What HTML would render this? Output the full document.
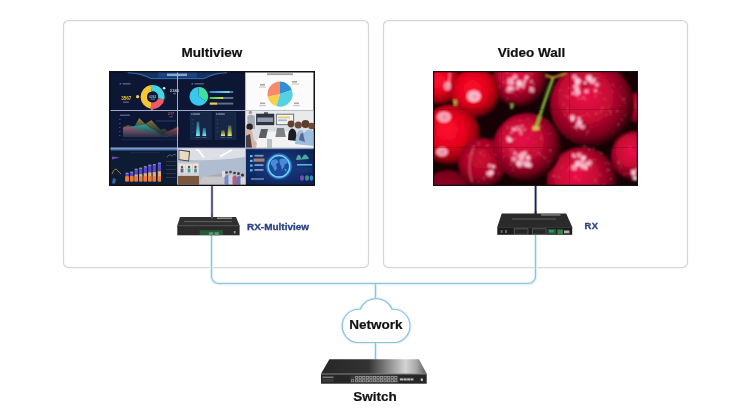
<!DOCTYPE html>
<html><head><meta charset="utf-8">
<style>
html,body{margin:0;padding:0;background:#fff;width:750px;height:417px;overflow:hidden}
svg{display:block;will-change:transform}
text{font-family:"Liberation Sans",sans-serif;font-weight:bold}
</style></head>
<body>
<svg width="750" height="417" viewBox="0 0 750 417">
<defs>
  <filter id="soft2" x="-2%" y="-2%" width="104%" height="104%"><feGaussianBlur stdDeviation="0.35"/></filter>
  <filter id="soft" x="-5%" y="-5%" width="110%" height="110%"><feGaussianBlur stdDeviation="0.8"/></filter>
  <radialGradient id="cb" cx="0.45" cy="0.42" r="0.6"><stop offset="0" stop-color="#ff1030"/><stop offset="0.5" stop-color="#e4001c"/><stop offset="0.8" stop-color="#9a000e"/><stop offset="1" stop-color="#200004"/></radialGradient>
  <radialGradient id="cc" cx="0.42" cy="0.4" r="0.62"><stop offset="0" stop-color="#ea1248"/><stop offset="0.45" stop-color="#c80834"/><stop offset="0.78" stop-color="#7a021c"/><stop offset="1" stop-color="#1a0004"/></radialGradient>
  <radialGradient id="cd" cx="0.45" cy="0.42" r="0.58"><stop offset="0" stop-color="#d00a30"/><stop offset="0.6" stop-color="#a80426"/><stop offset="0.9" stop-color="#600212"/><stop offset="1" stop-color="#200006"/></radialGradient>
  <linearGradient id="bar1" x1="0" x2="1"><stop offset="0" stop-color="#3a7ee0"/><stop offset="1" stop-color="#70e0e8"/></linearGradient>
  <linearGradient id="bar2" x1="0" x2="1"><stop offset="0" stop-color="#30c860"/><stop offset="1" stop-color="#d8e040"/></linearGradient>
  <linearGradient id="swtop" x1="0" y1="0" x2="1" y2="0">
    <stop offset="0" stop-color="#262626"/>
    <stop offset="0.45" stop-color="#333"/>
    <stop offset="0.65" stop-color="#909090"/>
    <stop offset="0.8" stop-color="#d4d4d6"/>
    <stop offset="0.9" stop-color="#a8a8a8"/>
    <stop offset="1" stop-color="#5a5a5a"/>
  </linearGradient>
  <radialGradient id="globebg" cx="0.5" cy="0.5" r="0.6"><stop offset="0" stop-color="#1a3e88"/><stop offset="1" stop-color="#0e2458"/></radialGradient>
  <linearGradient id="olive" x1="0" y1="0" x2="0" y2="1"><stop offset="0" stop-color="#a09040" stop-opacity="0.9"/><stop offset="1" stop-color="#506030" stop-opacity="0.15"/></linearGradient>
  <linearGradient id="teal" x1="0" y1="0" x2="0" y2="1"><stop offset="0" stop-color="#30a8a8" stop-opacity="0.85"/><stop offset="1" stop-color="#206080" stop-opacity="0.2"/></linearGradient>
  <linearGradient id="pink" x1="0" y1="0" x2="0" y2="1"><stop offset="0" stop-color="#c04868" stop-opacity="0.8"/><stop offset="1" stop-color="#602850" stop-opacity="0.2"/></linearGradient>
  <linearGradient id="cyanbar" x1="0" y1="0" x2="0" y2="1"><stop offset="0" stop-color="#3a90b8" stop-opacity="0.6"/><stop offset="1" stop-color="#70f0f8"/></linearGradient>
  <linearGradient id="yelbar" x1="0" y1="0" x2="0" y2="1"><stop offset="0" stop-color="#808040" stop-opacity="0.6"/><stop offset="1" stop-color="#f0f070"/></linearGradient>
</defs>
<!-- boxes -->
<rect x="63.5" y="20.5" width="305" height="247" rx="5" fill="#fff" stroke="#d6d6d6" stroke-width="1.25"/>
<rect x="383.5" y="20.5" width="304" height="247" rx="5" fill="#fff" stroke="#d6d6d6" stroke-width="1.25"/>
<!-- titles -->
<text x="212" y="57" font-size="13.5" text-anchor="middle" fill="#111" stroke="#111" stroke-width="0.2">Multiview</text>
<text x="531.5" y="57" font-size="13.5" text-anchor="middle" fill="#111" stroke="#111" stroke-width="0.2">Video Wall</text>

<!-- monitors -->
<rect x="109" y="71" width="206" height="115" fill="#111"/>
<g id="mv" filter="url(#soft2)">
<!-- row1 dashboard -->
<rect x="110.5" y="72.5" width="135" height="38" fill="#081430"/>
<polygon points="132,72.5 223,72.5 204,78.6 151,78.6" fill="#12305e"/>
<path d="M128 72.8 Q142 73.2 151 78.6 H204 Q213 73.2 227 72.8" fill="none" stroke="#3f8ed0" stroke-width="0.9" opacity="0.85"/>
<path d="M125 72.6 Q135 73 141 74 M214 74 Q220 73 230 72.6" fill="none" stroke="#2a5a9a" stroke-width="0.7" opacity="0.4"/>
<rect x="158" y="72.6" width="39" height="5" fill="#1e4a88" opacity="0.8"/><rect x="167" y="73.6" width="20" height="2.4" fill="#d8e4f8" opacity="0.6"/>
<rect x="116" y="80" width="59" height="29" fill="none" stroke="#16305e" stroke-width="0.5" opacity="0.6"/>
<rect x="186" y="80" width="55" height="29" fill="none" stroke="#16305e" stroke-width="0.5" opacity="0.6"/>
<rect x="119.6" y="83" width="1.6" height="1.6" fill="#8aa2c8" opacity="0.6"/><rect x="122.5" y="83" width="8" height="1.6" fill="#8aa2c8" opacity="0.5"/>
<rect x="191.5" y="83" width="1.6" height="1.6" fill="#8aa2c8" opacity="0.6"/><rect x="194.4" y="83" width="9.5" height="1.6" fill="#8aa2c8" opacity="0.5"/>
<text x="126.3" y="100.4" font-size="4.6" text-anchor="middle" fill="#f0c848">3567</text>
<rect x="123" y="101.5" width="6" height="1.2" fill="#a0a8b8" opacity="0.6"/>
<circle cx="137.6" cy="96.7" r="1.6" fill="#f6d040"/>
<path d="M150.52 85.08 A12 12 0 0 1 164.29 99.60 L158.06 98.16 A5.6 5.6 0 0 0 151.63 91.39 Z" fill="#3fd6e4"/>
<path d="M164.29 99.60 A12 12 0 0 1 150.52 108.72 L151.63 102.41 A5.6 5.6 0 0 0 158.06 98.16 Z" fill="#f05a6a"/>
<path d="M150.52 108.72 A12 12 0 0 1 150.52 85.08 L151.63 91.39 A5.6 5.6 0 0 0 151.63 102.41 Z" fill="#f6c636"/>
<text x="152.7" y="97.8" font-size="3.2" text-anchor="middle" fill="#90b8f0">6262</text>
<rect x="150.5" y="98.5" width="4.5" height="1.2" fill="#a0b0d0" opacity="0.6"/>
<circle cx="164.1" cy="88.3" r="1.3" fill="#d0f0ff"/>
<text x="174.5" y="91.6" font-size="4.2" text-anchor="middle" fill="#b8c8e0">2346</text>
<rect x="173" y="93" width="3" height="1.2" fill="#a0a8b8" opacity="0.5"/>
<circle cx="152" cy="109.5" r="1.2" fill="#f05a6a"/>
<path d="M198.8 96.4 L198.31 87.11 A9.3 9.3 0 0 1 206.42 101.73 Z" fill="#3ee0a4"/>
<path d="M198.8 96.4 L206.42 101.73 A9.3 9.3 0 1 1 198.31 87.11 Z" fill="#38c8ee"/>
<rect x="209.8" y="91" width="23.5" height="2" fill="#5c7290"/>
<rect x="209.8" y="97" width="23.5" height="2" fill="#5c7290"/>
<rect x="209.8" y="102.6" width="23.5" height="2" fill="#5c7290"/>
<rect x="209.8" y="91" width="19.7" height="2" fill="url(#bar1)"/>
<rect x="209.8" y="97" width="13.5" height="2" fill="url(#bar2)"/>
<rect x="209.8" y="102.6" width="7.2" height="2" fill="#f2cc50"/>
<!-- row1 white pie -->
<rect x="245.5" y="72.5" width="68" height="38" fill="#fbfbfb"/>
<rect x="267" y="73.3" width="26" height="1.8" fill="#555" opacity="0.55"/>
<path d="M280 94.1 L280.00 81.60 A12.5 12.5 0 0 1 291.82 90.03 Z" fill="#2d8fd6"/>
<path d="M280 94.1 L291.82 90.03 A12.5 12.5 0 0 1 276.35 106.05 Z" fill="#52d0e2"/>
<path d="M280 94.1 L276.35 106.05 A12.5 12.5 0 0 1 267.77 96.70 Z" fill="#f7d04a"/>
<path d="M280 94.1 L267.77 96.70 A12.5 12.5 0 0 1 280.00 81.60 Z" fill="#f78a6c"/>
<rect x="260" y="84" width="5" height="1.6" fill="#555" opacity="0.5"/><rect x="259" y="86.5" width="7" height="1.2" fill="#888" opacity="0.4"/>
<rect x="292" y="81" width="5" height="1.6" fill="#555" opacity="0.5"/><rect x="292" y="83.5" width="7" height="1.2" fill="#888" opacity="0.4"/>
<rect x="260" y="102.5" width="5" height="1.6" fill="#555" opacity="0.5"/><rect x="259" y="105" width="7" height="1.2" fill="#888" opacity="0.4"/>
<rect x="294" y="102.5" width="5" height="1.6" fill="#555" opacity="0.5"/><rect x="293" y="105" width="7" height="1.2" fill="#888" opacity="0.4"/>
<!-- row2 dashboard -->
<rect x="110.5" y="110.5" width="135" height="37.5" fill="#0a1736"/>
<rect x="120" y="114.5" width="10" height="1.5" fill="#8aa2c8" opacity="0.5"/>
<rect x="119" y="119" width="1.5" height="1" fill="#6a7ea0" opacity="0.5"/><rect x="119" y="123" width="1.5" height="1" fill="#6a7ea0" opacity="0.5"/><rect x="119" y="127" width="1.5" height="1" fill="#6a7ea0" opacity="0.5"/><rect x="119" y="131" width="1.5" height="1" fill="#6a7ea0" opacity="0.5"/><rect x="119" y="135" width="1.5" height="1" fill="#6a7ea0" opacity="0.5"/>
<path d="M123.1 127.1 L128.1 125.1 L134.2 127.1 L139.2 118.1 L145.3 124.1 L151.3 120.1 L160.4 129.7 L164.4 128.6 L168.4 131.7 L178.5 126.1 V137.2 H123.1 Z" fill="url(#olive)"/>
<path d="M123.1 128.1 L134.2 126.1 L145.3 124.6 L150.3 128.1 L156.3 131.2 L160.4 134.2 L162 137.2 H123.1 Z" fill="url(#teal)"/>
<path d="M123.1 127.6 L128.1 126.6 L136.2 129.7 L150.3 132.2 L162.4 135.2 L168.4 130.7 L178.5 127.6 V137.2 H123.1 Z" fill="url(#pink)"/>
<path d="M156.3 131.2 L164.4 137.2 L178 133" fill="none" stroke="#2a4a90" stroke-width="0.6" opacity="0.8"/>
<rect x="121" y="139.5" width="57" height="0.7" fill="#4a5a80" opacity="0.5"/>
<text x="171" y="115" font-size="4" text-anchor="middle" fill="#b84858">217</text><rect x="169" y="116.3" width="4" height="1" fill="#8090b0" opacity="0.5"/>
<rect x="156" y="120.5" width="20" height="0.9" fill="#6a82a8" opacity="0.45"/>

<rect x="190.2" y="112.1" width="21" height="27.3" fill="#172846" stroke="#223a60" stroke-width="0.4"/>
<rect x="215" y="112.1" width="21" height="27.3" fill="#172846" stroke="#223a60" stroke-width="0.4"/>
<rect x="191.2" y="113.4" width="1.3" height="1.3" fill="#c8d4e8" opacity="0.7"/><rect x="193" y="113.4" width="7" height="1.3" fill="#c8d4e8" opacity="0.6"/>
<rect x="216" y="113.4" width="1.3" height="1.3" fill="#c8d4e8" opacity="0.7"/><rect x="217.8" y="113.4" width="7" height="1.3" fill="#c8d4e8" opacity="0.6"/>
<g fill="#6a7a98" opacity="0.45"><rect x="191.8" y="119.5" width="1.6" height="0.8"/><rect x="191.8" y="123.5" width="1.6" height="0.8"/><rect x="191.8" y="127.5" width="1.6" height="0.8"/><rect x="191.8" y="131.5" width="1.6" height="0.8"/><rect x="216.6" y="119.5" width="1.6" height="0.8"/><rect x="216.6" y="123.5" width="1.6" height="0.8"/><rect x="216.6" y="127.5" width="1.6" height="0.8"/><rect x="216.6" y="131.5" width="1.6" height="0.8"/></g>
<path d="M196 136 L196.8 121.8 H199.1 L199.9 136 Z" fill="url(#cyanbar)"/>
<path d="M202.4 136 L203 128 H205.6 L206.2 136 Z" fill="url(#cyanbar)"/>
<path d="M220.9 136 L221.5 130.2 H224.5 L225.1 136 Z" fill="url(#yelbar)"/>
<path d="M227.6 136 L228.2 125.5 H231.2 L231.8 136 Z" fill="url(#yelbar)"/>
<rect x="195.5" y="137" width="5" height="1" fill="#8090a8" opacity="0.4"/><rect x="201.8" y="137" width="5" height="1" fill="#8090a8" opacity="0.4"/>
<rect x="220.4" y="137" width="5" height="1" fill="#8090a8" opacity="0.4"/><rect x="227" y="137" width="5" height="1" fill="#8090a8" opacity="0.4"/>
<!-- row2 photo meeting -->
<rect x="245.5" y="110.5" width="68" height="37.5" fill="#dadee2"/>
<rect x="245.5" y="110.5" width="68" height="16" fill="#e8eaec"/>
<rect x="256.1" y="113.7" width="18.2" height="11.5" fill="#2c3444"/>
<rect x="257.3" y="117.5" width="15.8" height="4.5" fill="#b8bcd0" opacity="0.75"/>
<rect x="275.9" y="113.7" width="18.2" height="11.5" fill="#6a7278"/>
<rect x="276.9" y="114.7" width="16.2" height="9.5" fill="#f2f2ee"/>
<rect x="278" y="116.5" width="12" height="2" fill="#e8c870" opacity="0.9"/>
<rect x="278" y="119.5" width="9" height="1.6" fill="#80a8d8" opacity="0.8"/>
<rect x="264" y="112.3" width="4" height="1.6" fill="#404048"/>
<path d="M252 148 L262 131.5 H295 L313.5 146 V148 Z" fill="#f3f3f3"/>
<path d="M258.7 138 L261 129 H268 L266 138 Z" fill="#5a5e64"/>
<path d="M275.4 137 L277 128 H284 L285.8 137 Z" fill="#6a6e74" opacity="0.85"/>
<rect x="267" y="139" width="5" height="9" fill="#9a9ea4" opacity="0.6"/>
<circle cx="250.4" cy="112.5" r="1.8" fill="#b89a88"/>
<path d="M247.3 129 V116 Q250.5 113.5 254.8 116 L255 129 Z" fill="#a8aeb6"/>
<circle cx="249.6" cy="126.7" r="3.2" fill="#2a2222"/>
<path d="M245.5 148 V130 Q249 128 252 131 L254 140 L257 143 L256 148 Z" fill="#d4b4a4"/>
<path d="M245.5 148 V136 L250 134 L252 148 Z" fill="#3a3234" opacity="0.9"/>
<circle cx="291" cy="124" r="3.4" fill="#5e4232"/>
<circle cx="298.3" cy="125" r="3.6" fill="#6a4a38"/>
<circle cx="305.5" cy="124" r="4" fill="#5a3c2c"/>
<circle cx="311.5" cy="126" r="3.2" fill="#6a4a38"/>
<path d="M288 140 Q288 129 292 128.5 Q296 129 296.5 135 L297 141 Z" fill="#1c1c24"/>
<path d="M295 144 Q296 131 300 130 Q303 130 304 133 Q307 129 310 130 Q313.5 131 313.5 133 V146 Z" fill="#9cbce0"/>
<path d="M299 140 Q300 132 303 133 L305 142 Z" fill="#3a4a6a" opacity="0.7"/>
<!-- row3 bar dashboard -->
<rect x="110.5" y="148" width="67" height="36.5" fill="#0f1a30"/>
<rect x="110.5" y="148" width="67" height="2.4" fill="#4a7fc6"/>
<path d="M112 156.5 L120 157.5 L112 159.5 Z" fill="#7a50c8" opacity="0.9"/>
<path d="M112 174 Q115 166 118 171 L121 174" fill="none" stroke="#c89050" stroke-width="1" opacity="0.8"/>
<path d="M112 183.5 L113 178 L116 179 L115 183.5 Z" fill="#3a7ac0" opacity="0.8"/>
<rect x="130" y="152.5" width="30" height="0.7" fill="#506080" opacity="0.4"/><path d="M167 157.5 Q169 153 172 156 Q174 153 176 155" fill="none" stroke="#8a94a8" stroke-width="0.9" opacity="0.6"/><rect x="166" y="161" width="10" height="0.8" fill="#6a7488" opacity="0.4"/><rect x="166" y="165" width="10" height="0.8" fill="#6a7488" opacity="0.4"/><rect x="166" y="169" width="10" height="0.8" fill="#6a7488" opacity="0.4"/><rect x="166" y="173" width="10" height="0.8" fill="#6a7488" opacity="0.4"/><rect x="166" y="177" width="10" height="0.8" fill="#6a7488" opacity="0.4"/>
<g><rect x="125.5" y="173.2" width="3.2" height="8.1" fill="#5a48c8"/><rect x="125.5" y="176.8" width="3.2" height="4.5" fill="#e0b070"/><rect x="125.5" y="176.2" width="3.2" height="5.1" fill="#f07a30"/><rect x="130.1" y="172.2" width="3.2" height="9.1" fill="#5a48c8"/><rect x="130.1" y="176.3" width="3.2" height="5.0" fill="#e0b070"/><rect x="130.1" y="176.2" width="3.2" height="5.1" fill="#f07a30"/><rect x="134.6" y="169.2" width="3.2" height="12.1" fill="#5a48c8"/><rect x="134.6" y="174.6" width="3.2" height="6.7" fill="#e0b070"/><rect x="134.6" y="176.2" width="3.2" height="5.1" fill="#f07a30"/><rect x="139.1" y="168.2" width="3.2" height="13.1" fill="#5a48c8"/><rect x="139.1" y="174.1" width="3.2" height="7.2" fill="#e0b070"/><rect x="139.1" y="176.2" width="3.2" height="5.1" fill="#f07a30"/><rect x="143.7" y="166.7" width="3.2" height="14.6" fill="#5a48c8"/><rect x="143.7" y="173.3" width="3.2" height="8.0" fill="#e0b070"/><rect x="143.7" y="176.2" width="3.2" height="5.1" fill="#f07a30"/><rect x="148.2" y="165.1" width="3.2" height="16.2" fill="#5a48c8"/><rect x="148.2" y="172.4" width="3.2" height="8.9" fill="#e0b070"/><rect x="148.2" y="176.2" width="3.2" height="5.1" fill="#f07a30"/><rect x="152.7" y="164.6" width="3.2" height="16.7" fill="#5a48c8"/><rect x="152.7" y="172.1" width="3.2" height="9.2" fill="#e0b070"/><rect x="152.7" y="176.2" width="3.2" height="5.1" fill="#f07a30"/><rect x="157.8" y="163.1" width="3.2" height="18.2" fill="#5a48c8"/><rect x="157.8" y="171.3" width="3.2" height="10.0" fill="#e0b070"/><rect x="157.8" y="176.2" width="3.2" height="5.1" fill="#f07a30"/></g>
<g><rect x="125.7" y="172.6" width="2.8" height="1.2" fill="#a8b8f0" opacity="0.7"/><rect x="130.3" y="171.6" width="2.8" height="1.2" fill="#a8b8f0" opacity="0.7"/><rect x="134.8" y="168.6" width="2.8" height="1.2" fill="#a8b8f0" opacity="0.7"/><rect x="139.3" y="167.6" width="2.8" height="1.2" fill="#a8b8f0" opacity="0.7"/><rect x="143.9" y="166.1" width="2.8" height="1.2" fill="#a8b8f0" opacity="0.7"/><rect x="148.4" y="164.5" width="2.8" height="1.2" fill="#a8b8f0" opacity="0.7"/><rect x="152.9" y="164.0" width="2.8" height="1.2" fill="#a8b8f0" opacity="0.7"/><rect x="158.0" y="162.5" width="2.8" height="1.2" fill="#a8b8f0" opacity="0.7"/></g>
<!-- row3 classroom photo -->
<rect x="177.5" y="148" width="68" height="36.5" fill="#b0bccf"/>
<path d="M177.5 148 H245.5 V157 Q215 161 190 160 L177.5 158 Z" fill="#dcdfe6"/>
<path d="M196 149.3 L199 151 L204 157.5" fill="none" stroke="#ffffff" stroke-width="1.8"/>
<path d="M220 156.5 L232 150" fill="none" stroke="#ffffff" stroke-width="1.8"/>
<path d="M178.5 149.5 L190 151 L189 161.5 L178.5 160 Z" fill="#3a3a40"/>
<path d="M179.3 150.5 L189 152 L188.3 160.5 L179.3 159.2 Z" fill="#e6dcc4"/>
<rect x="178" y="162.5" width="21" height="13" fill="#d6d2cc"/>
<rect x="179" y="164" width="6" height="9" fill="#e8e4e0"/><rect x="186" y="164" width="6" height="9" fill="#e0e6e8"/><rect x="193" y="164" width="5" height="9" fill="#e8e4e0"/>
<circle cx="182" cy="167" r="1.2" fill="#6a5040"/><rect x="180.6" y="168.5" width="2.8" height="4" fill="#506890"/>
<circle cx="189" cy="167" r="1.2" fill="#6a5040"/><rect x="187.6" y="168.5" width="2.8" height="4" fill="#40a0a0"/>
<circle cx="195.5" cy="167" r="1.2" fill="#6a5040"/><rect x="194.2" y="168.5" width="2.6" height="4" fill="#5080a8"/>
<path d="M177.5 176 H199 V184.5 H177.5 Z" fill="#7a5840"/>
<path d="M199 184.5 L203 176.5 H224 L226 184.5 Z" fill="#c8c8cc"/>
<path d="M205 176.5 L222 173.5 L224 176.5 Z" fill="#a8a098" opacity="0.6"/>
<rect x="222" y="171" width="3" height="6" fill="#e8e8ee" opacity="0.8"/>
<circle cx="226.5" cy="172.5" r="1.3" fill="#5a3a30"/>
<circle cx="230.5" cy="172" r="1.3" fill="#5a3a30"/>
<circle cx="234.5" cy="173" r="1.3" fill="#4a3028"/>
<circle cx="238.5" cy="173.5" r="1.5" fill="#5a3a30"/>
<circle cx="242.5" cy="175" r="1.6" fill="#4a3028"/>
<path d="M224.5 184.5 V177 Q226.5 174 228.5 175.5 L229 184.5 Z" fill="#6a80c8" opacity="0.85"/>
<path d="M228.5 184.5 V176 Q230.5 173.5 232.5 175 L233 184.5 Z" fill="#d8d0e0" opacity="0.85"/>
<path d="M232.5 184.5 V177 Q234.5 174.5 236.5 176 L237 184.5 Z" fill="#b85060" opacity="0.85"/>
<path d="M236.5 184.5 V177.5 Q238.5 175 240.5 176.5 L241 184.5 Z" fill="#5a68b0" opacity="0.85"/>
<path d="M240.5 184.5 V178.5 Q243 176.5 245.5 178 V184.5 Z" fill="#e8d8d0" opacity="0.85"/>
<!-- row3 globe dashboard -->
<rect x="245.5" y="148" width="68" height="36.5" fill="url(#globebg)"/>
<rect x="245.5" y="148" width="68" height="1.2" fill="#e8e8e8" opacity="0.5"/>
<circle cx="279" cy="166.3" r="13.5" fill="#2a70d0" opacity="0.35"/>
<circle cx="279" cy="166.3" r="10.8" fill="#1c4a9a" stroke="#70d4ff" stroke-width="1.5"/>
<circle cx="279" cy="166.3" r="12.2" fill="none" stroke="#4ab0f0" stroke-width="1" opacity="0.5"/>
<path d="M270.5 161.5 Q273 158.5 277 159.5 L278.5 162 L276 164.5 L277 168 L275 171.5 L273 167 L271 164.5 Z" fill="#5aa8f0" opacity="0.7"/>
<path d="M279.5 159.5 Q283 157.5 286.5 159.5 L288 163 L285 164 L284 167 L282 170 L281 166 L279.5 163 Z" fill="#5aa8f0" opacity="0.7"/><path d="M284 169 Q286 168 287 170 L285.5 172 Z" fill="#5aa8f0" opacity="0.6"/>
<rect x="250" y="155" width="2.6" height="2.2" fill="#58b8f0"/><rect x="254.5" y="154.8" width="9" height="1.8" fill="#a8c8f0" opacity="0.7"/>
<rect x="250" y="159.8" width="2.6" height="2.2" fill="#58b8f0"/><rect x="253.5" y="158.5" width="11" height="3.2" fill="#c89060" opacity="0.85"/>
<rect x="250" y="164.5" width="2.6" height="2.2" fill="#58b8f0"/><rect x="254.5" y="164.2" width="9" height="1.8" fill="#a8c8f0" opacity="0.7"/>
<rect x="250" y="169.2" width="2.6" height="2.2" fill="#58b8f0"/><rect x="254.5" y="169" width="9" height="1.8" fill="#a8c8f0" opacity="0.7"/>
<rect x="251" y="178.2" width="13" height="1.6" fill="#a8c8f0" opacity="0.55"/>
<path d="M296 160 Q298.5 150 301.5 159 Q305 150 309 159 Z" fill="#58c8a8" opacity="0.8"/>
<rect x="297" y="164" width="15" height="1.5" fill="#5ad8f0" opacity="0.85"/>
<rect x="297" y="167.5" width="15" height="5" fill="#1a3a80" opacity="0.6"/>
<ellipse cx="302" cy="178" rx="2" ry="2.8" fill="#8a50c0" opacity="0.85"/>
<ellipse cx="307" cy="178" rx="2" ry="2.8" fill="#40a090" opacity="0.85"/>
<ellipse cx="311.5" cy="178" rx="1.8" ry="2.8" fill="#4090d0" opacity="0.85"/>
<!-- grid lines -->
<line x1="177.5" y1="72.5" x2="177.5" y2="184.5" stroke="#b4bcd8" stroke-width="0.9"/>
<line x1="245.5" y1="72.5" x2="245.5" y2="184.5" stroke="#b4bcd8" stroke-width="0.9"/>
<line x1="110.5" y1="110.5" x2="313.5" y2="110.5" stroke="#b4bcd8" stroke-width="0.9"/>
<line x1="110.5" y1="148" x2="313.5" y2="148" stroke="#b4bcd8" stroke-width="0.9"/>
</g>
<rect x="433" y="71" width="205" height="115" fill="#111"/>
<clipPath id="vwclip"><rect x="434.2" y="72.2" width="202.6" height="112.6"/></clipPath>
<g clip-path="url(#vwclip)">
<rect x="433" y="71" width="205" height="115" fill="#160104"/>
<g filter="url(#soft)">
<circle cx="448" cy="196" r="26" fill="url(#cd)" opacity="0.7"/>
<circle cx="440" cy="84" r="21" fill="url(#cb)"/>
<circle cx="520" cy="80" r="27" fill="url(#cc)"/>
<circle cx="475" cy="93" r="25" fill="url(#cb)"/>
<circle cx="640" cy="108" r="16" fill="url(#cd)"/>
<circle cx="592" cy="105" r="42" fill="url(#cc)"/>
<circle cx="636" cy="156" r="25" fill="url(#cc)"/>
<circle cx="450" cy="135" r="30" fill="url(#cb)"/>
<circle cx="483" cy="163" r="25" fill="url(#cd)"/>
<circle cx="582" cy="182" r="35" fill="url(#cc)"/>
<circle cx="527" cy="147" r="34" fill="url(#cc)"/>
<ellipse cx="447.4" cy="86" rx="3.5" ry="4.5" fill="#ffc8d8" opacity="0.7"/><path d="M450 73 L448.5 88" stroke="#ffb8cc" stroke-width="2" opacity="0.6"/><circle cx="446.5" cy="87.3" r="1.1" fill="#e07090" opacity="0.6"/><ellipse cx="473.8" cy="96.2" rx="7" ry="6" fill="#ffd0e0" opacity="0.85"/><circle cx="475.0" cy="96.8" r="1.6" fill="#e07090" opacity="0.6"/><ellipse cx="444" cy="117" rx="7" ry="5.5" fill="#ffc8d8" opacity="0.8"/><circle cx="444.5" cy="117.3" r="2.1" fill="#e07090" opacity="0.6"/><ellipse cx="442" cy="152" rx="6" ry="4.5" fill="#ffc8d8" opacity="0.8"/><circle cx="442.5" cy="152.3" r="1.8" fill="#e07090" opacity="0.6"/><circle cx="518.9" cy="83.8" r="2.9" fill="#ffd0e0" opacity="0.68"/><circle cx="519.2" cy="83.1" r="2.3" fill="#ffd0e0" opacity="0.68"/><circle cx="512.4" cy="83.2" r="2.3" fill="#ffd0e0" opacity="0.68"/><circle cx="527.0" cy="77.3" r="1.7" fill="#ffd0e0" opacity="0.68"/><circle cx="510.2" cy="87.3" r="2.4" fill="#ffd0e0" opacity="0.68"/><circle cx="509.0" cy="89.8" r="2.9" fill="#ffd0e0" opacity="0.68"/><circle cx="523.7" cy="84.6" r="1.5" fill="#ffd0e0" opacity="0.68"/><circle cx="508.4" cy="83.4" r="1.3" fill="#ffd0e0" opacity="0.68"/><circle cx="512.6" cy="79.4" r="1.3" fill="#ffd0e0" opacity="0.68"/><circle cx="519.1" cy="82.2" r="2.7" fill="#ffd0e0" opacity="0.68"/><circle cx="520.5" cy="85.0" r="2.1" fill="#ffd0e0" opacity="0.68"/><circle cx="523.9" cy="82.4" r="1.7" fill="#ffd0e0" opacity="0.68"/><circle cx="531.9" cy="89.9" r="2.7" fill="#ffd0e0" opacity="0.68"/><circle cx="525.0" cy="80.4" r="1.6" fill="#ffd0e0" opacity="0.68"/><circle cx="514.9" cy="77.0" r="2.6" fill="#ffd0e0" opacity="0.68"/><circle cx="517.6" cy="87.9" r="1.9" fill="#ffd0e0" opacity="0.68"/><circle cx="531.0" cy="87.9" r="1.2" fill="#ffd0e0" opacity="0.68"/><circle cx="513.0" cy="88.7" r="2.0" fill="#ffd0e0" opacity="0.68"/><circle cx="531.5" cy="81.6" r="1.3" fill="#ffd0e0" opacity="0.68"/><circle cx="523.1" cy="86.9" r="1.7" fill="#ffd0e0" opacity="0.68"/><circle cx="510.1" cy="80.7" r="2.9" fill="#ffd0e0" opacity="0.68"/><circle cx="526.2" cy="77.7" r="1.6" fill="#ffd0e0" opacity="0.68"/><circle cx="574.6" cy="77.1" r="2.6" fill="#ffd0e0" opacity="0.68"/><circle cx="576.6" cy="86.1" r="2.0" fill="#ffd0e0" opacity="0.68"/><circle cx="577.0" cy="89.2" r="1.4" fill="#ffd0e0" opacity="0.68"/><circle cx="588.7" cy="78.1" r="2.0" fill="#ffd0e0" opacity="0.68"/><circle cx="577.5" cy="80.9" r="2.9" fill="#ffd0e0" opacity="0.68"/><circle cx="592.9" cy="81.5" r="2.8" fill="#ffd0e0" opacity="0.68"/><circle cx="577.5" cy="83.1" r="2.7" fill="#ffd0e0" opacity="0.68"/><circle cx="588.7" cy="77.8" r="3.0" fill="#ffd0e0" opacity="0.68"/><circle cx="577.5" cy="80.6" r="2.6" fill="#ffd0e0" opacity="0.68"/><circle cx="580.6" cy="81.3" r="1.3" fill="#ffd0e0" opacity="0.68"/><circle cx="574.3" cy="86.5" r="1.6" fill="#ffd0e0" opacity="0.68"/><circle cx="587.6" cy="82.7" r="2.0" fill="#ffd0e0" opacity="0.68"/><circle cx="596.9" cy="84.7" r="2.2" fill="#ffd0e0" opacity="0.68"/><circle cx="594.5" cy="79.3" r="1.5" fill="#ffd0e0" opacity="0.68"/><circle cx="595.6" cy="90.7" r="1.6" fill="#ffd0e0" opacity="0.68"/><circle cx="576.9" cy="89.3" r="2.9" fill="#ffd0e0" opacity="0.68"/><circle cx="577.1" cy="93.1" r="2.8" fill="#ffd0e0" opacity="0.68"/><circle cx="587.7" cy="83.6" r="1.4" fill="#ffd0e0" opacity="0.68"/><circle cx="573.0" cy="93.3" r="1.6" fill="#ffd0e0" opacity="0.68"/><circle cx="590.3" cy="80.6" r="2.7" fill="#ffd0e0" opacity="0.68"/><circle cx="587.5" cy="81.3" r="1.5" fill="#ffd0e0" opacity="0.68"/><circle cx="590.7" cy="77.2" r="1.6" fill="#ffd0e0" opacity="0.68"/><circle cx="586.5" cy="91.3" r="2.3" fill="#ffd0e0" opacity="0.68"/><circle cx="579.3" cy="92.5" r="1.6" fill="#ffd0e0" opacity="0.68"/><circle cx="586" cy="85" r="4.2" fill="#c00c34" opacity="0.9"/><circle cx="585" cy="82.8" r="1.4" fill="#ffe0ea" opacity="0.9"/><circle cx="572.2" cy="119.7" r="2.0" fill="#ffd0e0" opacity="0.68"/><circle cx="572.7" cy="118.8" r="1.9" fill="#ffd0e0" opacity="0.68"/><circle cx="578.9" cy="118.3" r="1.9" fill="#ffd0e0" opacity="0.68"/><circle cx="582.7" cy="126.8" r="2.4" fill="#ffd0e0" opacity="0.68"/><circle cx="580.3" cy="122.8" r="1.5" fill="#ffd0e0" opacity="0.68"/><circle cx="572.4" cy="117.2" r="2.8" fill="#ffd0e0" opacity="0.68"/><circle cx="580.4" cy="126.6" r="1.2" fill="#ffd0e0" opacity="0.68"/><circle cx="579.6" cy="121.8" r="2.5" fill="#ffd0e0" opacity="0.68"/><circle cx="575.8" cy="127.0" r="1.3" fill="#ffd0e0" opacity="0.68"/><circle cx="578.6" cy="124.4" r="2.8" fill="#ffd0e0" opacity="0.68"/><circle cx="524.7" cy="162.9" r="2.6" fill="#ffd0e0" opacity="0.68"/><circle cx="528.3" cy="157.9" r="2.4" fill="#ffd0e0" opacity="0.68"/><circle cx="528.0" cy="165.2" r="2.0" fill="#ffd0e0" opacity="0.68"/><circle cx="525.8" cy="165.1" r="2.2" fill="#ffd0e0" opacity="0.68"/><circle cx="522.5" cy="158.4" r="2.2" fill="#ffd0e0" opacity="0.68"/><circle cx="522.2" cy="154.1" r="2.4" fill="#ffd0e0" opacity="0.68"/><circle cx="529.9" cy="165.3" r="2.5" fill="#ffd0e0" opacity="0.68"/><circle cx="517.8" cy="163.3" r="2.2" fill="#ffd0e0" opacity="0.68"/><circle cx="518.8" cy="164.7" r="1.4" fill="#ffd0e0" opacity="0.68"/><circle cx="525.0" cy="153.4" r="2.3" fill="#ffd0e0" opacity="0.68"/><circle cx="519.6" cy="156.2" r="2.5" fill="#ffd0e0" opacity="0.68"/><circle cx="519.9" cy="161.6" r="2.9" fill="#ffd0e0" opacity="0.68"/><circle cx="515.1" cy="153.2" r="1.7" fill="#ffd0e0" opacity="0.68"/><circle cx="523.6" cy="155.8" r="1.5" fill="#ffd0e0" opacity="0.68"/><circle cx="528.1" cy="162.2" r="2.0" fill="#ffd0e0" opacity="0.68"/><circle cx="527.8" cy="157.6" r="2.4" fill="#ffd0e0" opacity="0.68"/><circle cx="514.0" cy="159.0" r="2.7" fill="#ffd0e0" opacity="0.68"/><circle cx="528.3" cy="165.3" r="1.9" fill="#ffd0e0" opacity="0.68"/><circle cx="521.7" cy="157.4" r="1.4" fill="#ffd0e0" opacity="0.68"/><circle cx="519.9" cy="164.7" r="2.7" fill="#ffd0e0" opacity="0.68"/><circle cx="521.0" cy="133.6" r="1.7" fill="#ffd0e0" opacity="0.5"/><circle cx="513.4" cy="129.6" r="1.7" fill="#ffd0e0" opacity="0.5"/><circle cx="514.0" cy="129.3" r="2.3" fill="#ffd0e0" opacity="0.5"/><circle cx="517.9" cy="128.5" r="2.7" fill="#ffd0e0" opacity="0.5"/><circle cx="524.7" cy="129.6" r="1.3" fill="#ffd0e0" opacity="0.5"/><circle cx="511.4" cy="133.0" r="1.3" fill="#ffd0e0" opacity="0.5"/><circle cx="520.9" cy="130.6" r="1.8" fill="#ffd0e0" opacity="0.5"/><circle cx="522.1" cy="126.2" r="1.4" fill="#ffd0e0" opacity="0.5"/><circle cx="579.1" cy="155.3" r="2.7" fill="#ffd0e0" opacity="0.68"/><circle cx="574.7" cy="157.0" r="1.3" fill="#ffd0e0" opacity="0.68"/><circle cx="582.6" cy="161.3" r="2.3" fill="#ffd0e0" opacity="0.68"/><circle cx="583.1" cy="166.3" r="2.9" fill="#ffd0e0" opacity="0.68"/><circle cx="583.7" cy="157.8" r="2.1" fill="#ffd0e0" opacity="0.68"/><circle cx="573.6" cy="155.2" r="2.0" fill="#ffd0e0" opacity="0.68"/><circle cx="584.3" cy="157.5" r="1.7" fill="#ffd0e0" opacity="0.68"/><circle cx="576.9" cy="164.8" r="2.1" fill="#ffd0e0" opacity="0.68"/><circle cx="582.3" cy="165.6" r="1.9" fill="#ffd0e0" opacity="0.68"/><circle cx="585.8" cy="167.7" r="1.4" fill="#ffd0e0" opacity="0.68"/><circle cx="588.7" cy="165.1" r="1.4" fill="#ffd0e0" opacity="0.68"/><circle cx="579.1" cy="163.8" r="2.8" fill="#ffd0e0" opacity="0.68"/><circle cx="577.5" cy="163.0" r="2.8" fill="#ffd0e0" opacity="0.68"/><circle cx="585.9" cy="168.2" r="2.0" fill="#ffd0e0" opacity="0.68"/><circle cx="583.0" cy="157.9" r="2.5" fill="#ffd0e0" opacity="0.68"/><circle cx="586.4" cy="164.0" r="2.5" fill="#ffd0e0" opacity="0.68"/><circle cx="574.3" cy="167.6" r="3.0" fill="#ffd0e0" opacity="0.68"/><circle cx="589.5" cy="162.5" r="2.6" fill="#ffd0e0" opacity="0.68"/><circle cx="489.6" cy="174.1" r="2.7" fill="#ffd0e0" opacity="0.68"/><circle cx="489.8" cy="165.8" r="2.0" fill="#ffd0e0" opacity="0.68"/><circle cx="491.4" cy="172.7" r="2.1" fill="#ffd0e0" opacity="0.68"/><circle cx="487.2" cy="173.1" r="1.3" fill="#ffd0e0" opacity="0.68"/><circle cx="493.4" cy="166.7" r="1.8" fill="#ffd0e0" opacity="0.68"/><circle cx="493.3" cy="166.4" r="1.5" fill="#ffd0e0" opacity="0.68"/><circle cx="491.1" cy="172.2" r="2.7" fill="#ffd0e0" opacity="0.68"/><circle cx="634.5" cy="178.5" r="2.1" fill="#ffd0e0" opacity="0.68"/><circle cx="636.6" cy="169.9" r="1.6" fill="#ffd0e0" opacity="0.68"/><circle cx="633.2" cy="171.9" r="2.5" fill="#ffd0e0" opacity="0.68"/><circle cx="634.1" cy="174.2" r="2.7" fill="#ffd0e0" opacity="0.68"/><circle cx="633.5" cy="172.1" r="1.9" fill="#ffd0e0" opacity="0.68"/><circle cx="635.8" cy="178.0" r="1.6" fill="#ffd0e0" opacity="0.68"/><circle cx="635.8" cy="178.7" r="2.1" fill="#ffd0e0" opacity="0.68"/><circle cx="508.4" cy="138.2" r="2.2" fill="#ffd0e0" opacity="0.68"/><circle cx="508.0" cy="140.6" r="1.2" fill="#ffd0e0" opacity="0.68"/><circle cx="510.8" cy="140.1" r="1.9" fill="#ffd0e0" opacity="0.68"/><circle cx="509.8" cy="140.4" r="2.1" fill="#ffd0e0" opacity="0.68"/>
<path d="M472 182 Q466 165 474 146" fill="none" stroke="#f080a0" stroke-width="1.6" opacity="0.5"/>
<g><circle cx="516.1" cy="77.2" r="1.0" fill="#ffc0d0" opacity="0.36"/><circle cx="499.2" cy="87.0" r="0.8" fill="#ffc0d0" opacity="0.36"/><circle cx="516.3" cy="95.8" r="0.6" fill="#ffc0d0" opacity="0.36"/><circle cx="507.7" cy="98.2" r="0.8" fill="#ffc0d0" opacity="0.36"/><circle cx="511.4" cy="81.0" r="0.8" fill="#ffc0d0" opacity="0.36"/><circle cx="503.6" cy="68.9" r="0.6" fill="#ffc0d0" opacity="0.36"/><circle cx="512.1" cy="62.9" r="0.5" fill="#ffc0d0" opacity="0.36"/><circle cx="521.3" cy="91.1" r="0.7" fill="#ffc0d0" opacity="0.36"/><circle cx="512.7" cy="92.8" r="1.0" fill="#ffc0d0" opacity="0.36"/><circle cx="503.7" cy="82.1" r="1.0" fill="#ffc0d0" opacity="0.36"/><circle cx="528.4" cy="92.1" r="0.7" fill="#ffc0d0" opacity="0.36"/><circle cx="514.6" cy="65.4" r="0.8" fill="#ffc0d0" opacity="0.36"/><circle cx="533.9" cy="84.3" r="1.0" fill="#ffc0d0" opacity="0.36"/><circle cx="506.9" cy="72.1" r="1.0" fill="#ffc0d0" opacity="0.36"/><circle cx="508.5" cy="70.7" r="1.0" fill="#ffc0d0" opacity="0.36"/><circle cx="503.7" cy="69.9" r="0.6" fill="#ffc0d0" opacity="0.36"/><circle cx="531.8" cy="73.8" r="0.7" fill="#ffc0d0" opacity="0.36"/><circle cx="527.3" cy="75.5" r="0.7" fill="#ffc0d0" opacity="0.36"/><circle cx="524.9" cy="76.3" r="0.6" fill="#ffc0d0" opacity="0.36"/><circle cx="523.6" cy="77.2" r="0.6" fill="#ffc0d0" opacity="0.36"/><circle cx="522.0" cy="86.4" r="0.8" fill="#ffc0d0" opacity="0.36"/><circle cx="533.1" cy="92.6" r="0.8" fill="#ffc0d0" opacity="0.36"/><circle cx="501.6" cy="77.4" r="0.6" fill="#ffc0d0" opacity="0.36"/><circle cx="504.3" cy="91.6" r="0.5" fill="#ffc0d0" opacity="0.36"/><circle cx="530.6" cy="90.7" r="0.7" fill="#ffc0d0" opacity="0.36"/><circle cx="621.2" cy="86.8" r="0.5" fill="#ffc0d0" opacity="0.36"/><circle cx="584.2" cy="78.3" r="0.7" fill="#ffc0d0" opacity="0.36"/><circle cx="563.1" cy="104.5" r="0.6" fill="#ffc0d0" opacity="0.36"/><circle cx="599.9" cy="82.1" r="0.5" fill="#ffc0d0" opacity="0.36"/><circle cx="617.3" cy="111.1" r="1.0" fill="#ffc0d0" opacity="0.36"/><circle cx="612.1" cy="91.4" r="0.6" fill="#ffc0d0" opacity="0.36"/><circle cx="598.3" cy="119.5" r="0.6" fill="#ffc0d0" opacity="0.36"/><circle cx="625.6" cy="103.0" r="0.5" fill="#ffc0d0" opacity="0.36"/><circle cx="580.8" cy="98.8" r="0.8" fill="#ffc0d0" opacity="0.36"/><circle cx="601.6" cy="110.1" r="0.8" fill="#ffc0d0" opacity="0.36"/><circle cx="567.4" cy="110.2" r="0.8" fill="#ffc0d0" opacity="0.36"/><circle cx="597.3" cy="125.7" r="0.5" fill="#ffc0d0" opacity="0.36"/><circle cx="600.3" cy="92.7" r="0.8" fill="#ffc0d0" opacity="0.36"/><circle cx="578.5" cy="121.4" r="0.6" fill="#ffc0d0" opacity="0.36"/><circle cx="583.5" cy="98.4" r="0.5" fill="#ffc0d0" opacity="0.36"/><circle cx="587.5" cy="114.1" r="0.8" fill="#ffc0d0" opacity="0.36"/><circle cx="578.2" cy="98.5" r="1.0" fill="#ffc0d0" opacity="0.36"/><circle cx="623.2" cy="101.6" r="0.7" fill="#ffc0d0" opacity="0.36"/><circle cx="589.8" cy="116.7" r="0.6" fill="#ffc0d0" opacity="0.36"/><circle cx="600.8" cy="84.5" r="0.7" fill="#ffc0d0" opacity="0.36"/><circle cx="613.2" cy="85.0" r="0.8" fill="#ffc0d0" opacity="0.36"/><circle cx="594.1" cy="82.8" r="0.6" fill="#ffc0d0" opacity="0.36"/><circle cx="610.5" cy="113.8" r="0.8" fill="#ffc0d0" opacity="0.36"/><circle cx="618.5" cy="124.5" r="1.0" fill="#ffc0d0" opacity="0.36"/><circle cx="609.4" cy="110.6" r="0.7" fill="#ffc0d0" opacity="0.36"/><circle cx="577.1" cy="129.2" r="1.0" fill="#ffc0d0" opacity="0.36"/><circle cx="596.0" cy="113.8" r="1.0" fill="#ffc0d0" opacity="0.36"/><circle cx="620.0" cy="105.0" r="0.5" fill="#ffc0d0" opacity="0.36"/><circle cx="594.6" cy="70.5" r="0.5" fill="#ffc0d0" opacity="0.36"/><circle cx="600.6" cy="112.6" r="0.6" fill="#ffc0d0" opacity="0.36"/><circle cx="591.1" cy="127.1" r="0.5" fill="#ffc0d0" opacity="0.36"/><circle cx="594.0" cy="76.9" r="0.5" fill="#ffc0d0" opacity="0.36"/><circle cx="606.3" cy="115.2" r="0.7" fill="#ffc0d0" opacity="0.36"/><circle cx="568.3" cy="97.3" r="1.0" fill="#ffc0d0" opacity="0.36"/><circle cx="560.3" cy="90.6" r="0.8" fill="#ffc0d0" opacity="0.36"/><circle cx="595.5" cy="96.0" r="1.0" fill="#ffc0d0" opacity="0.36"/><circle cx="575.2" cy="75.2" r="0.8" fill="#ffc0d0" opacity="0.36"/><circle cx="604.7" cy="99.1" r="0.8" fill="#ffc0d0" opacity="0.36"/><circle cx="623.8" cy="99.0" r="1.0" fill="#ffc0d0" opacity="0.36"/><circle cx="585.5" cy="99.6" r="0.8" fill="#ffc0d0" opacity="0.36"/><circle cx="569.7" cy="117.1" r="1.0" fill="#ffc0d0" opacity="0.36"/><circle cx="582.3" cy="128.5" r="0.8" fill="#ffc0d0" opacity="0.36"/><circle cx="577.3" cy="83.3" r="0.7" fill="#ffc0d0" opacity="0.36"/><circle cx="576.4" cy="79.1" r="0.5" fill="#ffc0d0" opacity="0.36"/><circle cx="609.2" cy="106.5" r="0.5" fill="#ffc0d0" opacity="0.36"/><circle cx="577.0" cy="88.4" r="0.8" fill="#ffc0d0" opacity="0.36"/><circle cx="610.6" cy="111.4" r="0.8" fill="#ffc0d0" opacity="0.36"/><circle cx="625.1" cy="115.8" r="0.7" fill="#ffc0d0" opacity="0.36"/><circle cx="621.8" cy="119.8" r="0.8" fill="#ffc0d0" opacity="0.36"/><circle cx="588.6" cy="87.8" r="0.6" fill="#ffc0d0" opacity="0.36"/><circle cx="602.5" cy="108.1" r="0.8" fill="#ffc0d0" opacity="0.36"/><circle cx="613.1" cy="132.0" r="0.6" fill="#ffc0d0" opacity="0.36"/><circle cx="582.6" cy="97.8" r="1.0" fill="#ffc0d0" opacity="0.36"/><circle cx="581.6" cy="111.0" r="0.5" fill="#ffc0d0" opacity="0.36"/><circle cx="583.5" cy="115.8" r="0.7" fill="#ffc0d0" opacity="0.36"/><circle cx="565.3" cy="115.0" r="0.8" fill="#ffc0d0" opacity="0.36"/><circle cx="569.5" cy="88.4" r="0.8" fill="#ffc0d0" opacity="0.36"/><circle cx="572.2" cy="127.7" r="0.6" fill="#ffc0d0" opacity="0.36"/><circle cx="620.6" cy="96.2" r="0.6" fill="#ffc0d0" opacity="0.36"/><circle cx="567.4" cy="107.9" r="0.7" fill="#ffc0d0" opacity="0.36"/><circle cx="597.9" cy="78.0" r="0.7" fill="#ffc0d0" opacity="0.36"/><circle cx="587.8" cy="132.0" r="1.0" fill="#ffc0d0" opacity="0.36"/><circle cx="587.2" cy="90.5" r="0.7" fill="#ffc0d0" opacity="0.36"/><circle cx="592.3" cy="89.8" r="0.6" fill="#ffc0d0" opacity="0.36"/><circle cx="563.8" cy="104.6" r="0.6" fill="#ffc0d0" opacity="0.36"/><circle cx="597.0" cy="100.2" r="0.5" fill="#ffc0d0" opacity="0.36"/><circle cx="609.8" cy="106.1" r="0.5" fill="#ffc0d0" opacity="0.36"/><circle cx="584.0" cy="97.2" r="1.0" fill="#ffc0d0" opacity="0.36"/><circle cx="586.6" cy="134.9" r="0.6" fill="#ffc0d0" opacity="0.36"/><circle cx="565.6" cy="96.3" r="0.7" fill="#ffc0d0" opacity="0.36"/><circle cx="510.1" cy="148.7" r="0.7" fill="#ffc0d0" opacity="0.36"/><circle cx="513.3" cy="167.5" r="0.5" fill="#ffc0d0" opacity="0.36"/><circle cx="533.2" cy="128.9" r="1.0" fill="#ffc0d0" opacity="0.36"/><circle cx="540.1" cy="125.7" r="0.8" fill="#ffc0d0" opacity="0.36"/><circle cx="514.1" cy="153.6" r="0.6" fill="#ffc0d0" opacity="0.36"/><circle cx="511.3" cy="163.9" r="1.0" fill="#ffc0d0" opacity="0.36"/><circle cx="517.4" cy="165.8" r="0.6" fill="#ffc0d0" opacity="0.36"/><circle cx="511.4" cy="154.6" r="0.5" fill="#ffc0d0" opacity="0.36"/><circle cx="511.2" cy="150.8" r="1.0" fill="#ffc0d0" opacity="0.36"/><circle cx="545.6" cy="157.7" r="0.8" fill="#ffc0d0" opacity="0.36"/><circle cx="534.7" cy="129.2" r="0.5" fill="#ffc0d0" opacity="0.36"/><circle cx="538.7" cy="153.1" r="1.0" fill="#ffc0d0" opacity="0.36"/><circle cx="540.7" cy="154.7" r="0.7" fill="#ffc0d0" opacity="0.36"/><circle cx="524.8" cy="157.6" r="0.7" fill="#ffc0d0" opacity="0.36"/><circle cx="518.0" cy="133.4" r="0.5" fill="#ffc0d0" opacity="0.36"/><circle cx="518.7" cy="164.0" r="1.0" fill="#ffc0d0" opacity="0.36"/><circle cx="551.1" cy="133.5" r="0.7" fill="#ffc0d0" opacity="0.36"/><circle cx="503.4" cy="156.7" r="0.7" fill="#ffc0d0" opacity="0.36"/><circle cx="514.0" cy="150.5" r="1.0" fill="#ffc0d0" opacity="0.36"/><circle cx="527.2" cy="164.2" r="0.7" fill="#ffc0d0" opacity="0.36"/><circle cx="550.2" cy="150.5" r="1.0" fill="#ffc0d0" opacity="0.36"/><circle cx="517.4" cy="155.2" r="1.0" fill="#ffc0d0" opacity="0.36"/><circle cx="514.9" cy="160.1" r="0.6" fill="#ffc0d0" opacity="0.36"/><circle cx="538.0" cy="128.7" r="0.6" fill="#ffc0d0" opacity="0.36"/><circle cx="543.2" cy="157.3" r="0.7" fill="#ffc0d0" opacity="0.36"/><circle cx="532.1" cy="134.6" r="0.5" fill="#ffc0d0" opacity="0.36"/><circle cx="506.3" cy="141.1" r="0.5" fill="#ffc0d0" opacity="0.36"/><circle cx="512.1" cy="126.2" r="0.5" fill="#ffc0d0" opacity="0.36"/><circle cx="513.3" cy="139.2" r="1.0" fill="#ffc0d0" opacity="0.36"/><circle cx="534.0" cy="151.1" r="0.5" fill="#ffc0d0" opacity="0.36"/><circle cx="533.7" cy="142.1" r="0.6" fill="#ffc0d0" opacity="0.36"/><circle cx="548.1" cy="161.8" r="0.8" fill="#ffc0d0" opacity="0.36"/><circle cx="527.4" cy="160.4" r="1.0" fill="#ffc0d0" opacity="0.36"/><circle cx="516.8" cy="163.4" r="0.7" fill="#ffc0d0" opacity="0.36"/><circle cx="512.3" cy="170.9" r="0.6" fill="#ffc0d0" opacity="0.36"/><circle cx="506.1" cy="147.8" r="0.5" fill="#ffc0d0" opacity="0.36"/><circle cx="519.9" cy="120.7" r="0.8" fill="#ffc0d0" opacity="0.36"/><circle cx="528.3" cy="118.7" r="0.7" fill="#ffc0d0" opacity="0.36"/><circle cx="542.5" cy="126.6" r="0.5" fill="#ffc0d0" opacity="0.36"/><circle cx="548.4" cy="129.0" r="0.5" fill="#ffc0d0" opacity="0.36"/><circle cx="503.2" cy="143.4" r="0.5" fill="#ffc0d0" opacity="0.36"/><circle cx="510.7" cy="155.7" r="0.6" fill="#ffc0d0" opacity="0.36"/><circle cx="527.3" cy="158.5" r="0.8" fill="#ffc0d0" opacity="0.36"/><circle cx="520.5" cy="132.2" r="0.8" fill="#ffc0d0" opacity="0.36"/><circle cx="513.3" cy="154.0" r="0.5" fill="#ffc0d0" opacity="0.36"/><circle cx="503.0" cy="151.4" r="0.7" fill="#ffc0d0" opacity="0.36"/><circle cx="512.0" cy="126.9" r="0.6" fill="#ffc0d0" opacity="0.36"/><circle cx="548.1" cy="134.0" r="0.5" fill="#ffc0d0" opacity="0.36"/><circle cx="503.5" cy="133.3" r="0.5" fill="#ffc0d0" opacity="0.36"/><circle cx="522.1" cy="158.7" r="0.7" fill="#ffc0d0" opacity="0.36"/><circle cx="529.8" cy="160.5" r="0.8" fill="#ffc0d0" opacity="0.36"/><circle cx="515.8" cy="139.4" r="0.6" fill="#ffc0d0" opacity="0.36"/><circle cx="541.3" cy="135.9" r="0.7" fill="#ffc0d0" opacity="0.36"/><circle cx="507.6" cy="127.2" r="1.0" fill="#ffc0d0" opacity="0.36"/><circle cx="512.6" cy="148.9" r="0.8" fill="#ffc0d0" opacity="0.36"/><circle cx="541.3" cy="138.4" r="1.0" fill="#ffc0d0" opacity="0.36"/><circle cx="528.2" cy="138.4" r="0.6" fill="#ffc0d0" opacity="0.36"/><circle cx="516.3" cy="154.9" r="0.6" fill="#ffc0d0" opacity="0.36"/><circle cx="532.6" cy="130.2" r="1.0" fill="#ffc0d0" opacity="0.36"/><circle cx="534.0" cy="122.9" r="0.5" fill="#ffc0d0" opacity="0.36"/><circle cx="574.1" cy="161.0" r="0.5" fill="#ffc0d0" opacity="0.36"/><circle cx="601.7" cy="153.1" r="0.8" fill="#ffc0d0" opacity="0.36"/><circle cx="589.2" cy="149.2" r="1.0" fill="#ffc0d0" opacity="0.36"/><circle cx="595.4" cy="159.6" r="0.7" fill="#ffc0d0" opacity="0.36"/><circle cx="599.2" cy="195.1" r="1.0" fill="#ffc0d0" opacity="0.36"/><circle cx="599.2" cy="191.6" r="1.0" fill="#ffc0d0" opacity="0.36"/><circle cx="579.8" cy="194.4" r="0.6" fill="#ffc0d0" opacity="0.36"/><circle cx="570.8" cy="167.6" r="0.6" fill="#ffc0d0" opacity="0.36"/><circle cx="593.7" cy="148.6" r="0.6" fill="#ffc0d0" opacity="0.36"/><circle cx="595.3" cy="180.6" r="1.0" fill="#ffc0d0" opacity="0.36"/><circle cx="598.7" cy="184.7" r="0.8" fill="#ffc0d0" opacity="0.36"/><circle cx="604.1" cy="185.7" r="1.0" fill="#ffc0d0" opacity="0.36"/><circle cx="592.1" cy="160.3" r="0.6" fill="#ffc0d0" opacity="0.36"/><circle cx="557.6" cy="187.0" r="0.5" fill="#ffc0d0" opacity="0.36"/><circle cx="585.8" cy="153.8" r="0.5" fill="#ffc0d0" opacity="0.36"/><circle cx="561.4" cy="167.3" r="0.6" fill="#ffc0d0" opacity="0.36"/><circle cx="609.3" cy="163.5" r="0.7" fill="#ffc0d0" opacity="0.36"/><circle cx="579.0" cy="180.5" r="0.7" fill="#ffc0d0" opacity="0.36"/><circle cx="606.0" cy="172.6" r="0.5" fill="#ffc0d0" opacity="0.36"/><circle cx="566.5" cy="191.8" r="0.5" fill="#ffc0d0" opacity="0.36"/><circle cx="570.0" cy="152.0" r="0.5" fill="#ffc0d0" opacity="0.36"/><circle cx="580.1" cy="170.3" r="0.8" fill="#ffc0d0" opacity="0.36"/><circle cx="577.2" cy="153.3" r="0.7" fill="#ffc0d0" opacity="0.36"/><circle cx="563.7" cy="165.2" r="0.5" fill="#ffc0d0" opacity="0.36"/><circle cx="598.7" cy="151.7" r="0.6" fill="#ffc0d0" opacity="0.36"/><circle cx="591.4" cy="166.3" r="0.8" fill="#ffc0d0" opacity="0.36"/><circle cx="605.5" cy="163.2" r="0.7" fill="#ffc0d0" opacity="0.36"/><circle cx="582.7" cy="151.1" r="0.5" fill="#ffc0d0" opacity="0.36"/><circle cx="581.5" cy="186.2" r="0.5" fill="#ffc0d0" opacity="0.36"/><circle cx="568.3" cy="198.1" r="1.0" fill="#ffc0d0" opacity="0.36"/><circle cx="558.9" cy="177.4" r="0.8" fill="#ffc0d0" opacity="0.36"/><circle cx="586.2" cy="165.1" r="0.6" fill="#ffc0d0" opacity="0.36"/><circle cx="574.3" cy="165.6" r="0.6" fill="#ffc0d0" opacity="0.36"/><circle cx="590.0" cy="189.9" r="0.8" fill="#ffc0d0" opacity="0.36"/><circle cx="574.6" cy="168.1" r="0.6" fill="#ffc0d0" opacity="0.36"/><circle cx="610.7" cy="178.9" r="0.8" fill="#ffc0d0" opacity="0.36"/><circle cx="575.4" cy="177.4" r="0.8" fill="#ffc0d0" opacity="0.36"/><circle cx="591.8" cy="168.1" r="0.6" fill="#ffc0d0" opacity="0.36"/><circle cx="584.8" cy="146.5" r="0.8" fill="#ffc0d0" opacity="0.36"/><circle cx="553.9" cy="176.1" r="1.0" fill="#ffc0d0" opacity="0.36"/><circle cx="600.5" cy="174.8" r="0.7" fill="#ffc0d0" opacity="0.36"/><circle cx="608.0" cy="170.0" r="1.0" fill="#ffc0d0" opacity="0.36"/><circle cx="567.2" cy="170.2" r="0.6" fill="#ffc0d0" opacity="0.36"/><circle cx="569.0" cy="192.9" r="0.5" fill="#ffc0d0" opacity="0.36"/><circle cx="569.5" cy="168.3" r="0.7" fill="#ffc0d0" opacity="0.36"/><circle cx="487.4" cy="145.2" r="1.0" fill="#ffc0d0" opacity="0.36"/><circle cx="480.7" cy="153.1" r="1.0" fill="#ffc0d0" opacity="0.36"/><circle cx="495.3" cy="154.4" r="0.7" fill="#ffc0d0" opacity="0.36"/><circle cx="471.9" cy="153.6" r="1.0" fill="#ffc0d0" opacity="0.36"/><circle cx="478.4" cy="143.4" r="1.0" fill="#ffc0d0" opacity="0.36"/><circle cx="500.0" cy="162.8" r="0.6" fill="#ffc0d0" opacity="0.36"/><circle cx="480.0" cy="161.6" r="0.6" fill="#ffc0d0" opacity="0.36"/><circle cx="484.2" cy="155.6" r="0.8" fill="#ffc0d0" opacity="0.36"/><circle cx="468.0" cy="155.2" r="0.7" fill="#ffc0d0" opacity="0.36"/><circle cx="498.8" cy="173.3" r="0.7" fill="#ffc0d0" opacity="0.36"/><circle cx="476.1" cy="164.6" r="0.6" fill="#ffc0d0" opacity="0.36"/><circle cx="484.1" cy="178.2" r="1.0" fill="#ffc0d0" opacity="0.36"/><circle cx="468.9" cy="157.4" r="0.7" fill="#ffc0d0" opacity="0.36"/><circle cx="491.6" cy="178.2" r="0.7" fill="#ffc0d0" opacity="0.36"/><circle cx="477.3" cy="158.8" r="0.5" fill="#ffc0d0" opacity="0.36"/><circle cx="478.4" cy="181.6" r="0.6" fill="#ffc0d0" opacity="0.36"/><circle cx="483.6" cy="150.8" r="0.6" fill="#ffc0d0" opacity="0.36"/><circle cx="488.9" cy="176.8" r="0.5" fill="#ffc0d0" opacity="0.36"/><circle cx="618.8" cy="163.3" r="0.6" fill="#ffc0d0" opacity="0.36"/><circle cx="624.7" cy="174.1" r="0.8" fill="#ffc0d0" opacity="0.36"/><circle cx="619.0" cy="150.2" r="0.5" fill="#ffc0d0" opacity="0.36"/><circle cx="636.4" cy="169.9" r="0.5" fill="#ffc0d0" opacity="0.36"/><circle cx="637.1" cy="168.9" r="1.0" fill="#ffc0d0" opacity="0.36"/><circle cx="621.1" cy="166.0" r="0.6" fill="#ffc0d0" opacity="0.36"/><circle cx="628.8" cy="173.8" r="0.7" fill="#ffc0d0" opacity="0.36"/><circle cx="645.4" cy="165.4" r="0.6" fill="#ffc0d0" opacity="0.36"/><circle cx="619.3" cy="167.4" r="0.5" fill="#ffc0d0" opacity="0.36"/><circle cx="618.4" cy="162.2" r="1.0" fill="#ffc0d0" opacity="0.36"/><circle cx="641.8" cy="152.8" r="0.8" fill="#ffc0d0" opacity="0.36"/><circle cx="630.1" cy="147.2" r="0.8" fill="#ffc0d0" opacity="0.36"/><circle cx="639.0" cy="145.5" r="0.8" fill="#ffc0d0" opacity="0.36"/><circle cx="632.9" cy="154.4" r="0.5" fill="#ffc0d0" opacity="0.36"/><circle cx="641.0" cy="152.5" r="1.0" fill="#ffc0d0" opacity="0.36"/></g>
<path d="M536 128 Q544 102 553 78" fill="none" stroke="#8cc23c" stroke-width="2.6"/>
<path d="M546 75 Q552 79 558 76 Q562 74 566 73" fill="none" stroke="#d08a30" stroke-width="2.2"/>
<ellipse cx="536" cy="128" rx="3.5" ry="2.5" fill="#d8c050"/>
<rect x="454" y="100" width="2.6" height="5" fill="#90c050"/>
<rect x="510.5" y="104" width="2.4" height="5" fill="#90c050"/>
</g>
<line x1="501.3" y1="71" x2="501.3" y2="186" stroke="#300008" stroke-width="0.6" opacity="0.35"/>
<line x1="569.7" y1="71" x2="569.7" y2="186" stroke="#300008" stroke-width="0.6" opacity="0.35"/>
<line x1="433" y1="109.5" x2="638" y2="109.5" stroke="#300008" stroke-width="0.6" opacity="0.35"/>
<line x1="433" y1="147.5" x2="638" y2="147.5" stroke="#300008" stroke-width="0.6" opacity="0.35"/>
</g>

<!-- navy lines -->
<line x1="212" y1="186" x2="212" y2="217" stroke="#dcdcf0" stroke-width="3.4"/>
<line x1="212" y1="186" x2="212" y2="221" stroke="#505370" stroke-width="1.8"/>
<line x1="535.6" y1="186" x2="535.6" y2="216" stroke="#d8d8ee" stroke-width="3.2"/>
<line x1="535.6" y1="186" x2="535.6" y2="216" stroke="#20223c" stroke-width="1.7"/>

<!-- blue network lines -->
<g fill="none" stroke="#e2f4fb" stroke-width="3.4">
<path d="M211.5 235 V276.5 A7 7 0 0 0 218.5 283.5 H528.5 A7 7 0 0 0 535.5 276.5 V235"/>
<line x1="375.5" y1="283" x2="375.5" y2="298"/>
<line x1="375.5" y1="342" x2="375.5" y2="359.5"/>
<path d="M356.7 342.5 A16.7 16.7 0 0 1 360.2 309.3 A17.2 17.2 0 0 1 392.05 309.3 A16.7 16.7 0 0 1 395.55 342.5 Z"/>
</g>
<g fill="none" stroke="#92c2da" stroke-width="1.2">
<path d="M211.5 235 V276.5 A7 7 0 0 0 218.5 283.5 H528.5 A7 7 0 0 0 535.5 276.5 V235"/>
<line x1="375.5" y1="283" x2="375.5" y2="298"/>
<line x1="375.5" y1="342" x2="375.5" y2="359.5"/>
</g>
<!-- cloud -->
<path d="M356.7 342.5 A16.7 16.7 0 0 1 360.2 309.3 A17.2 17.2 0 0 1 392.05 309.3 A16.7 16.7 0 0 1 395.55 342.5 Z" fill="#fff" stroke="#92c2da" stroke-width="1.2"/>
<text x="376" y="328.5" font-size="13.5" text-anchor="middle" fill="#111" stroke="#111" stroke-width="0.2">Network</text>

<!-- device 1 -->
<polygon points="180,217 236,217 239.6,225.5 177.3,225.5" fill="#303030"/>
<rect x="177.3" y="225.5" width="62.3" height="9.8" fill="#2a2a2a"/>
<rect x="177.3" y="225.5" width="62.3" height="1" fill="#3a3a3a"/>
<rect x="184" y="221" width="48" height="1.1" fill="#8a8a8a" opacity="0.5"/>
<rect x="217" y="217.5" width="15" height="1.4" fill="#d0d0d0" opacity="0.65"/>
<rect x="199.7" y="230.2" width="23.3" height="4.7" fill="#2a5a3c"/>
<rect x="209" y="232.2" width="4.2" height="3.2" fill="#5a9a6a"/>
<rect x="214.6" y="232.2" width="4.2" height="3.2" fill="#5a9a6a"/>
<rect x="233.8" y="231" width="1.8" height="2.4" fill="#999"/>
<!-- device 2 -->
<polygon points="501.7,213.5 566.2,213.5 572.2,227 497.3,227" fill="#2a2a2a"/>
<rect x="497.3" y="227" width="74.9" height="7.8" fill="#1c1c1c"/>
<rect x="497.3" y="227" width="74.9" height="0.8" fill="#3c3c3c"/>
<rect x="512" y="218.5" width="44" height="1" fill="#909090" opacity="0.55"/>
<rect x="541" y="214.3" width="19.5" height="1.3" fill="#c8c8c8" opacity="0.6"/>
<rect x="514.2" y="228.8" width="13.8" height="5.4" fill="#262626" stroke="#6a6a6a" stroke-width="0.7"/>
<rect x="532.3" y="228.8" width="13.8" height="5.4" fill="#262626" stroke="#6a6a6a" stroke-width="0.7"/>
<rect x="547.6" y="229" width="8.7" height="5" fill="#24583a"/><rect x="549" y="230" width="5" height="2.5" fill="#3e8a58"/>
<rect x="557.4" y="229.5" width="5.5" height="4.8" fill="#3a8050"/>
<rect x="564" y="230.5" width="5.4" height="2.8" fill="#b0b0b0"/>
<rect x="500.6" y="230" width="2" height="3" fill="#606060"/><rect x="505" y="230" width="2" height="3" fill="#606060"/>
<line x1="212" y1="214" x2="212" y2="218.5" stroke="#505370" stroke-width="1.8"/>
<line x1="535.6" y1="211" x2="535.6" y2="214" stroke="#20223c" stroke-width="1.7"/>
<text x="247" y="230" font-size="9.3" fill="#2a4282" stroke="#2a4282" stroke-width="0.3" textLength="62" lengthAdjust="spacingAndGlyphs">RX-Multiview</text>
<text y="229.1" font-size="9.4" fill="#2b4688" stroke="#2b4688" stroke-width="0.35"><tspan x="584.6">R</tspan><tspan x="591.8">X</tspan></text>

<!-- switch -->
<polygon points="329.4,359.3 419,359.3 426.7,373.8 321,373.8" fill="url(#swtop)"/>
<rect x="321" y="373.8" width="105.7" height="9.9" fill="#262626"/>
<rect x="321" y="373.8" width="105.7" height="0.9" fill="#6a6a6a"/>
<rect x="322.5" y="376.5" width="11" height="1.6" fill="#9a9a9a" opacity="0.7"/>
<rect x="322.5" y="379" width="11" height="3" fill="#3a3a3a"/>
<rect x="350.5" y="375.6" width="48" height="7.2" fill="#3a3a3a"/><rect x="351" y="379.4" width="3" height="2.6" fill="#9a9a9a"/><rect x="351.7" y="380.1" width="1.6" height="1.4" fill="#2a2a2a"/><rect x="355.20" y="376.1" width="3" height="2.7" fill="#a8a8a8"/><rect x="355.90" y="376.9" width="1.6" height="1.3" fill="#333"/><rect x="355.20" y="379.4" width="3" height="2.7" fill="#a8a8a8"/><rect x="355.90" y="380.2" width="1.6" height="1.3" fill="#333"/><rect x="358.75" y="376.1" width="3" height="2.7" fill="#a8a8a8"/><rect x="359.45" y="376.9" width="1.6" height="1.3" fill="#333"/><rect x="358.75" y="379.4" width="3" height="2.7" fill="#a8a8a8"/><rect x="359.45" y="380.2" width="1.6" height="1.3" fill="#333"/><rect x="362.30" y="376.1" width="3" height="2.7" fill="#a8a8a8"/><rect x="363.00" y="376.9" width="1.6" height="1.3" fill="#333"/><rect x="362.30" y="379.4" width="3" height="2.7" fill="#a8a8a8"/><rect x="363.00" y="380.2" width="1.6" height="1.3" fill="#333"/><rect x="365.85" y="376.1" width="3" height="2.7" fill="#a8a8a8"/><rect x="366.55" y="376.9" width="1.6" height="1.3" fill="#333"/><rect x="365.85" y="379.4" width="3" height="2.7" fill="#a8a8a8"/><rect x="366.55" y="380.2" width="1.6" height="1.3" fill="#333"/><rect x="369.40" y="376.1" width="3" height="2.7" fill="#a8a8a8"/><rect x="370.10" y="376.9" width="1.6" height="1.3" fill="#333"/><rect x="369.40" y="379.4" width="3" height="2.7" fill="#a8a8a8"/><rect x="370.10" y="380.2" width="1.6" height="1.3" fill="#333"/><rect x="372.95" y="376.1" width="3" height="2.7" fill="#a8a8a8"/><rect x="373.65" y="376.9" width="1.6" height="1.3" fill="#333"/><rect x="372.95" y="379.4" width="3" height="2.7" fill="#a8a8a8"/><rect x="373.65" y="380.2" width="1.6" height="1.3" fill="#333"/><rect x="376.50" y="376.1" width="3" height="2.7" fill="#a8a8a8"/><rect x="377.20" y="376.9" width="1.6" height="1.3" fill="#333"/><rect x="376.50" y="379.4" width="3" height="2.7" fill="#a8a8a8"/><rect x="377.20" y="380.2" width="1.6" height="1.3" fill="#333"/><rect x="380.05" y="376.1" width="3" height="2.7" fill="#a8a8a8"/><rect x="380.75" y="376.9" width="1.6" height="1.3" fill="#333"/><rect x="380.05" y="379.4" width="3" height="2.7" fill="#a8a8a8"/><rect x="380.75" y="380.2" width="1.6" height="1.3" fill="#333"/><rect x="383.60" y="376.1" width="3" height="2.7" fill="#a8a8a8"/><rect x="384.30" y="376.9" width="1.6" height="1.3" fill="#333"/><rect x="383.60" y="379.4" width="3" height="2.7" fill="#a8a8a8"/><rect x="384.30" y="380.2" width="1.6" height="1.3" fill="#333"/><rect x="387.15" y="376.1" width="3" height="2.7" fill="#a8a8a8"/><rect x="387.85" y="376.9" width="1.6" height="1.3" fill="#333"/><rect x="387.15" y="379.4" width="3" height="2.7" fill="#a8a8a8"/><rect x="387.85" y="380.2" width="1.6" height="1.3" fill="#333"/><rect x="390.70" y="376.1" width="3" height="2.7" fill="#a8a8a8"/><rect x="391.40" y="376.9" width="1.6" height="1.3" fill="#333"/><rect x="390.70" y="379.4" width="3" height="2.7" fill="#a8a8a8"/><rect x="391.40" y="380.2" width="1.6" height="1.3" fill="#333"/><rect x="394.25" y="376.1" width="3" height="2.7" fill="#a8a8a8"/><rect x="394.95" y="376.9" width="1.6" height="1.3" fill="#333"/><rect x="394.25" y="379.4" width="3" height="2.7" fill="#a8a8a8"/><rect x="394.95" y="380.2" width="1.6" height="1.3" fill="#333"/>
<rect x="399.3" y="377.8" width="14.4" height="3.2" fill="#4a4a4a"/>
<rect x="400" y="378.5" width="3" height="1.8" fill="#bbb"/><rect x="403.6" y="378.5" width="3" height="1.8" fill="#bbb"/><rect x="407.2" y="378.5" width="3" height="1.8" fill="#bbb"/><rect x="410.8" y="378.5" width="2.5" height="1.8" fill="#bbb"/>
<rect x="420.8" y="378.5" width="2" height="2.4" fill="#ddd"/>
<text x="375" y="400.8" font-size="13.5" text-anchor="middle" fill="#111" stroke="#111" stroke-width="0.2">Switch</text>
</svg>
</body></html>
